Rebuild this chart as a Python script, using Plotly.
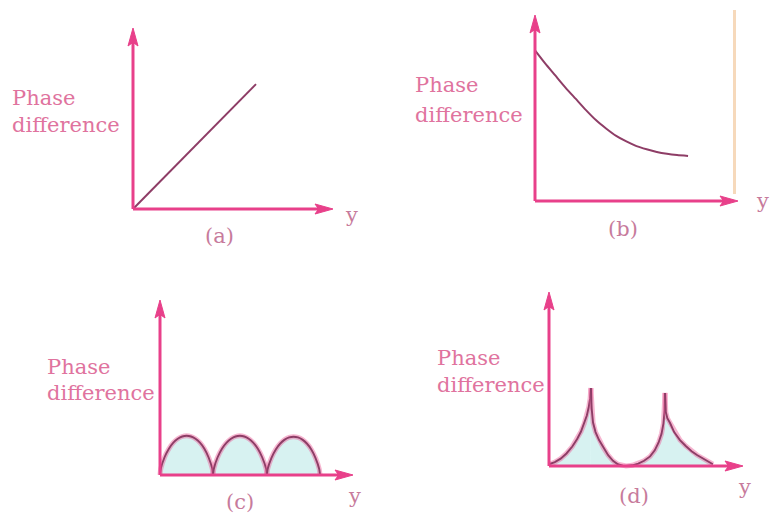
import plotly.graph_objects as go

W, H = 772, 514

# ---- data (read in axis units; each axis arrow ends at 10) ----
# (a) phase difference grows linearly with y
a_x = [0.0, 6.15]
a_y = [0.0, 6.9]

# (b) phase difference falls off with y
b_x = [0.0, 0.5, 1.0, 1.5, 2.0, 2.5, 3.0, 3.5, 4.0, 4.5, 5.0, 5.5, 6.0, 6.5, 7.0, 7.54]
b_y = [8.1, 7.4, 6.75, 6.1, 5.5, 4.9, 4.35, 3.9, 3.5, 3.2, 2.95, 2.78, 2.64, 2.54, 2.47, 2.42]

# (c) three rounded humps
c1_x = [0.0, 0.04, 0.23, 0.46, 0.69, 0.92, 1.15, 1.38, 1.61, 1.84, 2.07, 2.3, 2.52, 2.71, 2.75]
c1_y = [0.0, 0.35, 1.0, 1.5, 1.85, 2.07, 2.2, 2.24, 2.2, 2.07, 1.85, 1.5, 1.0, 0.35, 0.0]
c2_x = [2.75, 2.79, 2.98, 3.21, 3.45, 3.68, 3.91, 4.14, 4.37, 4.6, 4.83, 5.07, 5.3, 5.5, 5.54]
c2_y = [0.0, 0.36, 1.0, 1.5, 1.85, 2.07, 2.2, 2.24, 2.2, 2.07, 1.85, 1.5, 1.0, 0.35, 0.0]
c3_x = [5.54, 5.58, 5.77, 6.0, 6.23, 6.46, 6.69, 6.92, 7.15, 7.38, 7.61, 7.84, 8.06, 8.25, 8.29]
c3_y = [0.0, 0.34, 0.97, 1.46, 1.8, 2.02, 2.15, 2.19, 2.15, 2.02, 1.8, 1.46, 0.97, 0.34, 0.0]

# (d) cusped peaks
d1_x = [0.0, 0.3, 0.6, 0.9, 1.2, 1.45, 1.65, 1.82, 1.95, 2.05, 2.12, 2.16]
d1_y = [0.1, 0.22, 0.42, 0.72, 1.12, 1.55, 1.98, 2.45, 2.9, 3.4, 3.9, 4.48]
d2_x = [2.16, 2.2, 2.27, 2.4, 2.58, 2.8, 3.05, 3.3, 3.55, 3.8, 3.97,
        4.3, 4.6, 4.9, 5.21, 5.45, 5.65, 5.8, 5.9, 5.96, 5.98]
d2_y = [4.48, 3.3, 2.5, 1.95, 1.49, 1.05, 0.62, 0.3, 0.1, 0.02, 0.0,
        0.04, 0.14, 0.3, 0.55, 0.9, 1.35, 1.85, 2.45, 3.2, 4.2]
d3_x = [5.98, 6.02, 6.1, 6.24, 6.45, 6.75, 7.05, 7.35, 7.63, 7.95, 8.25, 8.45]
d3_y = [4.2, 3.1, 2.75, 2.47, 1.95, 1.49, 1.15, 0.85, 0.63, 0.42, 0.22, 0.1]

panel_labels = ["(a)", "(b)", "(c)", "(d)"]
y_title = ["Phase", "difference"]
x_title = "y"

# ---- styling ----
AXIS_C = "#e8408a"
CURVE_C = "#8e3d66"
TEXT_C = "#e0739e"
LABEL_C = "#c77b9c"
FILL_C = "rgba(208,240,238,0.85)"
HALO_C = "rgba(234,90,150,0.45)"
FONT = "DejaVu Serif"
AXIS_LEN = 10.0

# panel geometry: origin pixel, pixels per unit, pixel box of the subplot
panels = [
    dict(o=(133, 209), s=(20.0, 18.1), box=(90, 380, 5, 250)),
    dict(o=(535, 201), s=(20.3, 18.6), box=(480, 770, 2, 245)),
    dict(o=(160, 475), s=(19.3, 17.5), box=(100, 380, 280, 510)),
    dict(o=(549, 466), s=(19.4, 17.4), box=(500, 770, 275, 505)),
]

fig = go.Figure()
layout = dict(
    width=W, height=H, margin=dict(l=0, r=0, t=0, b=0),
    paper_bgcolor="white", plot_bgcolor="rgba(0,0,0,0)", showlegend=False,
)

def axis_refs(i):
    n = "" if i == 0 else str(i + 1)
    return "x" + n, "y" + n, "xaxis" + n, "yaxis" + n

for i, p in enumerate(panels):
    xr, yr, xk, yk = axis_refs(i)
    ox, oy = p["o"]
    sx, sy = p["s"]
    x0, x1, yt, yb = p["box"]
    layout[xk] = dict(domain=[x0 / W, x1 / W], range=[(x0 - ox) / sx, (x1 - ox) / sx],
                      visible=False, anchor=yr, fixedrange=True)
    layout[yk] = dict(domain=[1 - yb / H, 1 - yt / H], range=[(oy - yb) / sy, (oy - yt) / sy],
                      visible=False, anchor=xr, fixedrange=True)

def add(i, **kw):
    xr, yr, _, _ = axis_refs(i)
    fig.add_trace(go.Scatter(xaxis=xr, yaxis=yr, hoverinfo="skip", **kw))

def draw_axes(i):
    sx, sy = panels[i]["s"]
    L = AXIS_LEN
    hl_x, hw_x = 18 / sx, 5 / sy   # x-arrow head length / half-width
    hl_y, hw_y = 18 / sy, 5 / sx   # y-arrow head length / half-width
    line = dict(color=AXIS_C, width=3)
    add(i, x=[0, L - hl_x * 0.6], y=[0, 0], mode="lines", line=line)
    add(i, x=[0, 0], y=[0, L - hl_y * 0.6], mode="lines", line=line)
    add(i, x=[L, L - hl_x, L - hl_x * 0.8, L - hl_x, L], y=[0, hw_x, 0, -hw_x, 0],
        mode="lines", fill="toself", fillcolor=AXIS_C, line=dict(color=AXIS_C, width=1))
    add(i, x=[0, hw_y, 0, -hw_y, 0], y=[L, L - hl_y, L - hl_y * 0.8, L - hl_y, L],
        mode="lines", fill="toself", fillcolor=AXIS_C, line=dict(color=AXIS_C, width=1))

def filled_curve(i, xs, ys, shape):
    add(i, x=xs, y=ys, mode="lines", fill="tozeroy", fillcolor=FILL_C,
        line=dict(color=HALO_C, width=5, shape=shape, smoothing=0.5))
    add(i, x=xs, y=ys, mode="lines",
        line=dict(color=CURVE_C, width=1.9, shape=shape, smoothing=0.5))

# (a)
add(0, x=a_x, y=a_y, mode="lines", line=dict(color=CURVE_C, width=2))
draw_axes(0)
# (b)
add(1, x=b_x, y=b_y, mode="lines", line=dict(color=CURVE_C, width=2, shape="spline", smoothing=0.6))
draw_axes(1)
# (c)
for xs, ys in [(c1_x, c1_y), (c2_x, c2_y), (c3_x, c3_y)]:
    filled_curve(2, xs, ys, "spline")
draw_axes(2)
# (d)
for xs, ys in [(d1_x, d1_y), (d2_x, d2_y), (d3_x, d3_y)]:
    filled_curve(3, xs, ys, "linear")
draw_axes(3)

# ---- text ----
def txt(x, y, s, color, size, xanchor="left"):
    return dict(x=x / W, y=1 - y / H, xref="paper", yref="paper", text=s, showarrow=False,
                xanchor=xanchor, yanchor="middle", font=dict(family=FONT, size=size, color=color))

title_pos = [((10, 98), (10, 125)), ((413, 85), (413, 115)),
             ((45, 367), (45, 393)), ((435, 358), (435, 385))]
label_pos = [(219, 236), (623, 229), (240, 502), (634, 496)]
y_pos = [(351, 215), (762, 201), (354, 496), (744, 487)]

ann = []
for k in range(4):
    (p1, p2), lp, yp = title_pos[k], label_pos[k], y_pos[k]
    ann.append(txt(p1[0], p1[1], y_title[0], TEXT_C, 21))
    ann.append(txt(p2[0], p2[1], y_title[1], TEXT_C, 21))
    ann.append(txt(lp[0], lp[1], panel_labels[k], LABEL_C, 21, "center"))
    ann.append(txt(yp[0], yp[1], x_title, LABEL_C, 21, "center"))
layout["annotations"] = ann

# faint vertical rule at the right edge of the top-right panel
layout["shapes"] = [dict(type="line", xref="paper", yref="paper",
                         x0=734.5 / W, x1=734.5 / W, y0=1 - 10 / H, y1=1 - 194 / H,
                         line=dict(color="#f6d9bb", width=3))]

fig.update_layout(**layout)
fig.write_html("out.html")
